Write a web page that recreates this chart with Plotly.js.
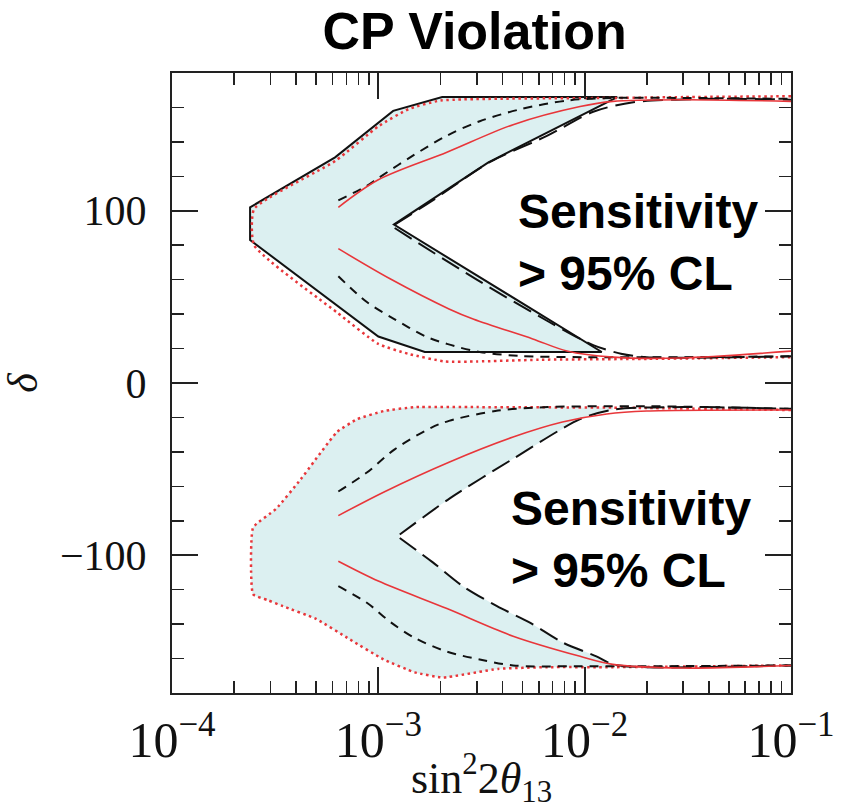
<!DOCTYPE html>
<html>
<head>
<meta charset="utf-8">
<script src="https://cdn.plot.ly/plotly-3.0.1.min.js"></script>
<style>html,body{margin:0;padding:0;background:#fff;}#chart{width:849px;height:809px;}</style>
</head>
<body>
<div id="chart"></div>
<script>
// ---- Data ----
// Upper region (delta > 0): black solid outline of shaded area
const blackOutlineX = [0.0144, 0.00204, 0.00118, 0.000617, 0.000239, 0.000239, 0.001, 0.00168, 0.0121, 0.00119, 0.0034, 0.0144];
const blackOutlineY = [166, 166, 158, 131, 102, 83, 27, 18, 18, 92, 128, 166];

// Upper region red dotted contour
const redDotUpX = [0.1, 0.03, 0.0144, 0.002, 0.0014, 0.001, 0.00062, 0.00025, 0.00025, 0.00063, 0.001, 0.0014, 0.0021, 0.003, 0.006, 0.02, 0.1];
const redDotUpY = [166.5, 166, 165.5, 164, 159, 149, 129, 101, 80, 41, 22.7, 16.9, 12.5, 12.5, 13.5, 14, 15];

// Upper region red solid curves
const redSolidUpAX = [0.00064, 0.001, 0.00215, 0.0045, 0.0095, 0.0137, 0.03, 0.1];
const redSolidUpAY = [102, 118, 134, 150, 160.5, 163.5, 164.5, 163.5];
const redSolidUpBX = [0.00064, 0.00114, 0.0022, 0.0029, 0.0056, 0.0082, 0.0137, 0.029, 0.1];
const redSolidUpBY = [78, 60.5, 43, 37, 25.6, 18.6, 15, 14.5, 18.5];

// Upper region black short-dashed curves
const shortDashUpAX = [0.00064, 0.00088, 0.001, 0.00147, 0.00215, 0.0031, 0.0049, 0.0082, 0.0133, 0.03, 0.1];
const shortDashUpAY = [106, 114.5, 119, 132, 143.6, 152, 159, 164, 165.5, 165.5, 165];
const shortDashUpBX = [0.00064, 0.00088, 0.0012, 0.0017, 0.00215, 0.0031, 0.0049, 0.01, 0.03, 0.1];
const shortDashUpBY = [62, 47, 37, 27, 22.7, 18, 15.7, 15, 15, 15.5];

// Upper region black long-dashed curves
const longDashUpAX = [0.0012, 0.00178, 0.0035, 0.0066, 0.011, 0.0172, 0.042, 0.1];
const longDashUpAY = [92, 105, 128.5, 143.6, 157.5, 163, 165, 164.5];
const longDashUpBX = [0.0012, 0.003, 0.0066, 0.011, 0.015, 0.02, 0.1];
const longDashUpBY = [90, 60, 36, 22, 17, 15, 15.5];

// Lower region (delta < 0): red dotted contour
const redDotLowX = [0.1, 0.02, 0.0137, 0.003, 0.0015, 0.00106, 0.00079, 0.00063, 0.00042, 0.00032, 0.000247, 0.000247, 0.00029, 0.000345, 0.0005, 0.00073, 0.00106, 0.0015, 0.00205, 0.0038, 0.0066, 0.0137, 0.1];
const redDotLowY = [-15.7, -14.5, -14.3, -14, -14, -16.3, -21, -28.5, -56, -73, -84, -122.7, -126, -129.6, -137, -149, -160.5, -168, -171, -166, -165, -165, -164];

// Lower region red solid curves
const redSolidLowAX = [0.00064, 0.00106, 0.0022, 0.0045, 0.0078, 0.0128, 0.02, 0.1];
const redSolidLowAY = [-77, -63.4, -46, -31.4, -22.7, -18, -16.3, -15.7];
const redSolidLowBX = [0.00064, 0.001, 0.00215, 0.0045, 0.0095, 0.0137, 0.03, 0.1];
const redSolidLowBY = [-103.5, -115, -131, -147, -158.7, -163.4, -165.5, -164];

// Lower region black short-dashed curves
const shortDashLowAX = [0.00064, 0.00088, 0.0012, 0.0018, 0.0022, 0.0038, 0.0066, 0.02, 0.1];
const shortDashLowAY = [-63, -52, -38.5, -26, -22, -16, -14, -13.5, -15];
const shortDashLowBX = [0.00064, 0.00088, 0.00115, 0.0015, 0.00215, 0.0031, 0.0045, 0.0095, 0.1];
const shortDashLowBY = [-118, -127.6, -139, -148, -156, -160.5, -164, -164.5, -164];

// Lower region black long-dashed curves (inner boundary of shaded area)
const longDashLowAX = [0.00127, 0.00222, 0.0045, 0.0095, 0.0137, 0.03, 0.1];
const longDashLowAY = [-88, -67, -44, -21, -15.5, -14, -15];
const longDashLowBX = [0.00127, 0.00183, 0.00257, 0.00376, 0.0054, 0.0078, 0.0114, 0.0137, 0.02, 0.1];
const longDashLowBY = [-90, -104, -118, -129.6, -139, -150.6, -158.7, -163.4, -165, -164];

const xTitle = 'sin<sup>2</sup>2<i>θ</i><sub>13</sub>';
const yTitle = '<i>δ</i>';
const chartTitle = '<b>CP Violation</b>';
const noteText = '<b>Sensitivity<br>&gt; 95% CL</b>';

// ---- Styles ----
const RED = '#e8363a';
const BLK = '#111111';
const FILL = '#dcf0f1';

function line(x, y, color, dash, width, smooth) {
  return {type: 'scatter', mode: 'lines', x: x, y: y, hoverinfo: 'skip', showlegend: false,
          line: {color: color, dash: dash, width: width, shape: smooth ? 'spline' : 'linear', smoothing: smooth || 0}};
}

// lower shaded polygon built from the contour arrays
const cut = 0.0138;
const lowFillX = [], lowFillY = [];
redDotLowX.forEach((v, i) => { if (v <= cut) { lowFillX.push(v); lowFillY.push(redDotLowY[i]); } });
for (let i = longDashLowBX.length - 1; i >= 0; i--) { if (longDashLowBX[i] <= cut) { lowFillX.push(longDashLowBX[i]); lowFillY.push(longDashLowBY[i]); } }
longDashLowAX.forEach((v, i) => { if (v <= cut) { lowFillX.push(v); lowFillY.push(longDashLowAY[i]); } });

const traces = [
  {type: 'scatter', mode: 'lines', x: blackOutlineX, y: blackOutlineY, fill: 'toself', fillcolor: FILL,
   line: {color: BLK, width: 2}, hoverinfo: 'skip', showlegend: false},
  {type: 'scatter', mode: 'lines', x: lowFillX, y: lowFillY, fill: 'toself', fillcolor: FILL,
   line: {width: 0, color: 'rgba(0,0,0,0)', shape: 'spline', smoothing: 0.4}, hoverinfo: 'skip', showlegend: false},
  line(redDotUpX, redDotUpY, RED, '2.5px,3.5px', 2.5, 0.5),
  line(redDotLowX, redDotLowY, RED, '2.5px,3.5px', 2.5, 0.4),
  line(shortDashUpAX, shortDashUpAY, BLK, '9px,7px', 2, 0.9),
  line(shortDashUpBX, shortDashUpBY, BLK, '9px,7px', 2, 0.9),
  line(shortDashLowAX, shortDashLowAY, BLK, '9px,7px', 2, 0.9),
  line(shortDashLowBX, shortDashLowBY, BLK, '9px,7px', 2, 0.9),
  line(longDashUpAX, longDashUpAY, BLK, '20px,8px', 2, 0.8),
  line(longDashUpBX, longDashUpBY, BLK, '20px,8px', 2, 0.8),
  line(longDashLowAX, longDashLowAY, BLK, '20px,8px', 2, 0.8),
  line(longDashLowBX, longDashLowBY, BLK, '20px,8px', 2, 0.8),
  line(redSolidUpAX, redSolidUpAY, RED, 'solid', 1.6, 0.9),
  line(redSolidUpBX, redSolidUpBY, RED, 'solid', 1.6, 0.9),
  line(redSolidLowAX, redSolidLowAY, RED, 'solid', 1.6, 0.9),
  line(redSolidLowBX, redSolidLowBY, RED, 'solid', 1.6, 0.9)
];

const serif = 'Liberation Serif, DejaVu Serif, serif';
const sans = 'Liberation Sans, Arial, sans-serif';

const layout = {
  width: 849, height: 809,
  margin: {l: 172, r: 58, t: 73, b: 116},
  paper_bgcolor: '#fff', plot_bgcolor: '#fff',
  showlegend: false,
  title: {text: chartTitle, font: {family: sans, size: 52, color: '#000'},
          xref: 'container', x: 0.559, xanchor: 'center', yref: 'container', y: 0.962, yanchor: 'middle'},
  xaxis: {
    type: 'log', range: [-4, -1], dtick: 1, exponentformat: 'power',
    ticks: 'inside', ticklen: 26, tickwidth: 2, tickcolor: '#222',
    showline: true, linewidth: 2, linecolor: '#222', mirror: 'allticks',
    showgrid: false, zeroline: false,
    minor: {ticks: 'inside', ticklen: 12, tickwidth: 1.5, tickcolor: '#222', dtick: 'D1', showgrid: false},
    tickfont: {family: serif, size: 40, color: '#111'},
    ticklabelstandoff: 4,
    title: {text: xTitle, font: {family: serif, size: 44, color: '#111'}, standoff: 6}
  },
  yaxis: {
    range: [-180, 180], tick0: 0, dtick: 100,
    ticks: 'inside', ticklen: 26, tickwidth: 2, tickcolor: '#222',
    showline: true, linewidth: 2, linecolor: '#222', mirror: 'allticks',
    showgrid: false, zeroline: false,
    minor: {ticks: 'inside', ticklen: 12, tickwidth: 1.5, tickcolor: '#222', dtick: 20, showgrid: false},
    tickfont: {family: serif, size: 42, color: '#111'},
    ticklabelstandoff: 15,
    title: {text: yTitle, font: {family: serif, size: 42, color: '#111'}, standoff: 36}
  },
  annotations: [
    {xref: 'paper', yref: 'paper', x: 0.555, y: 0.822, xanchor: 'left', yanchor: 'top', align: 'left',
     showarrow: false, text: noteText, font: {family: sans, size: 48, color: '#000'}},
    {xref: 'paper', yref: 'paper', x: 0.545, y: 0.344, xanchor: 'left', yanchor: 'top', align: 'left',
     showarrow: false, text: noteText, font: {family: sans, size: 48, color: '#000'}}
  ]
};

Plotly.newPlot('chart', traces, layout, {displayModeBar: false, staticPlot: true});
</script>
</body>
</html>
